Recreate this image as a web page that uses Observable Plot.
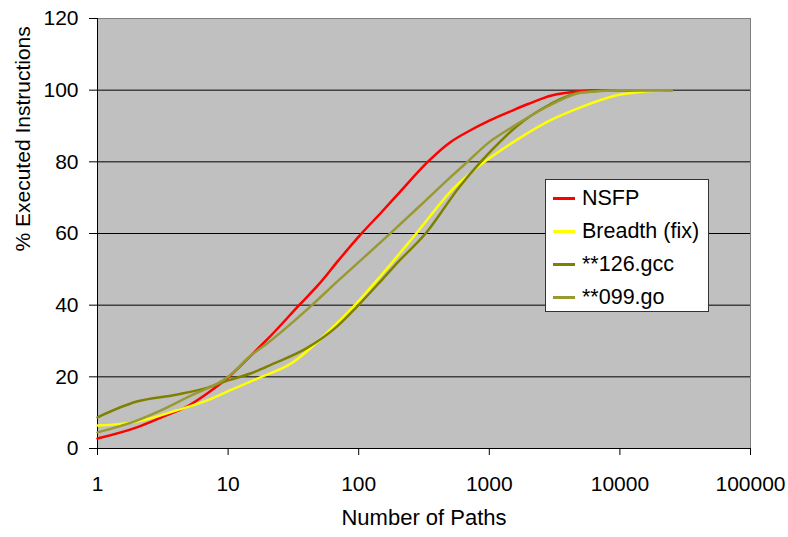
<!DOCTYPE html>
<html>
<head>
<meta charset="utf-8">
<script src="https://cdn.jsdelivr.net/npm/d3@7"></script>
<script src="https://cdn.jsdelivr.net/npm/@observablehq/plot@0.6"></script>
<style>
  body { margin: 0; background: white; }
  #wrap { position: relative; width: 788px; height: 537px; font-family: "Liberation Sans", Arial, sans-serif; }
  #legend { position: absolute; left: 545px; top: 179px; width: 162px; height: 131px; background: white; border: 1px solid #333; box-sizing: content-box; }
  .row { position: absolute; left: 0; height: 33px; display: flex; align-items: center; font-size: 21.5px; color: #000; white-space: nowrap; }
  .sw { width: 22px; height: 2.5px; margin-left: 7px; margin-right: 7px; }
</style>
</head>
<body>
<div id="wrap"></div>
<script>
// Series names and colours
const seriesNames = ["NSFP", "Breadth (fix)", "**126.gcc", "**099.go"];
const seriesColors = ["#FF0000", "#FFFF00", "#808000", "#999933"];

// NSFP
const nsfpN = [1, 2, 3, 5, 7, 10, 15, 20, 35, 50, 70, 107, 150, 200, 347, 500, 700, 1000, 1500, 2000, 3000, 5000, 7000, 10000, 25000];
const nsfpV = [2.8, 5.9, 8.5, 12, 15.5, 19.8, 26, 30.5, 40, 46, 52.5, 60.3, 66, 71, 80.4, 85.4, 88.6, 91.5, 94.3, 96.2, 98.5, 99.7, 100, 100, 100];

// Breadth (fix)
const breadthN = [1, 2, 4, 7, 10, 17.5, 30, 60, 90, 150, 280, 530, 880, 1600, 2900, 5000, 9300, 16000, 25000];
const breadthV = [6.4, 7.5, 10.6, 13.5, 16, 19.8, 23.6, 33, 39.4, 48.5, 60.3, 72.5, 79.5, 86, 91.5, 95.2, 98.5, 99.7, 100];

// **126.gcc
const gccN = [1, 2, 4, 7, 10, 15, 22, 40, 68, 96, 150, 200, 330, 590, 880, 1200, 1600, 2900, 5000, 10000, 25000];
const gccV = [8.7, 13.1, 15, 17, 19, 21, 23.6, 28, 34, 39.4, 47, 52, 60.3, 73, 80.4, 85.5, 89.7, 96, 99.4, 100, 100];

// **099.go
const goN = [1, 2, 3, 5, 10, 15, 20, 42, 70, 100, 178, 300, 500, 680, 1000, 1500, 2000, 3000, 5000, 10000, 25000];
const goV = [4.5, 7.8, 10.5, 14.5, 20, 26, 29.4, 39.4, 46.9, 52, 60.3, 68, 75.6, 80, 85.5, 89.7, 92.5, 96, 99.3, 100, 100];

// Axis ticks
const xTicks = [1, 10, 100, 1000, 10000, 100000];
const yTicks = [0, 20, 40, 60, 80, 100, 120];
const gridValues = [20, 40, 60, 80, 100];
const xTitle = "Number of Paths";
const yTitle = "% Executed Instructions";

const seriesN = [nsfpN, breadthN, gccN, goN];
const seriesV = [nsfpV, breadthV, gccV, goV];
const rows = [];
seriesNames.forEach((name, i) => {
  seriesN[i].forEach((n, j) => rows.push({series: name, n, v: seriesV[i][j]}));
});

const chart = Plot.plot({
  width: 788,
  height: 537,
  marginLeft: 97,
  marginRight: 38,
  marginTop: 18,
  marginBottom: 89,
  style: {fontFamily: '"Liberation Sans", Arial, sans-serif', fontSize: "21px", color: "#000", background: "white"},
  x: {type: "log", domain: [1, 100000]},
  y: {domain: [0, 120]},
  color: {domain: seriesNames, range: seriesColors},
  marks: [
    Plot.frame({fill: "#C0C0C0", stroke: "#808080"}),
    Plot.ruleY(gridValues, {stroke: "#000", strokeWidth: 1}),
    Plot.ruleY([0], {stroke: "#000", strokeWidth: 1}),
    Plot.ruleX([1], {stroke: "#000", strokeWidth: 1}),
    Plot.axisX({ticks: xTicks, tickFormat: d => String(d), tickSize: 7, tickPadding: 21, label: null, fontSize: 21}),
    Plot.axisY({ticks: yTicks, tickSize: 8, tickPadding: 11, label: null, fontSize: 21}),
    Plot.line(rows, {x: "n", y: "v", z: "series", stroke: "series", strokeWidth: 2.5, curve: "monotone-x"}),
    Plot.text([xTitle], {text: d => d, frameAnchor: "bottom", dy: 76, fontSize: 22}),
    Plot.text([yTitle], {text: d => d, frameAnchor: "left", rotate: -90, dx: -74, dy: 18, fontSize: 21})
  ]
});

const wrap = document.getElementById("wrap");
wrap.appendChild(chart);

const legend = document.createElement("div");
legend.id = "legend";
seriesNames.forEach((name, i) => {
  const row = document.createElement("div");
  row.className = "row";
  row.style.top = (2 + i * 33) + "px";
  const sw = document.createElement("span");
  sw.className = "sw";
  sw.style.background = seriesColors[i];
  const t = document.createElement("span");
  t.textContent = name;
  row.appendChild(sw);
  row.appendChild(t);
  legend.appendChild(row);
});
wrap.appendChild(legend);
</script>
</body>
</html>
